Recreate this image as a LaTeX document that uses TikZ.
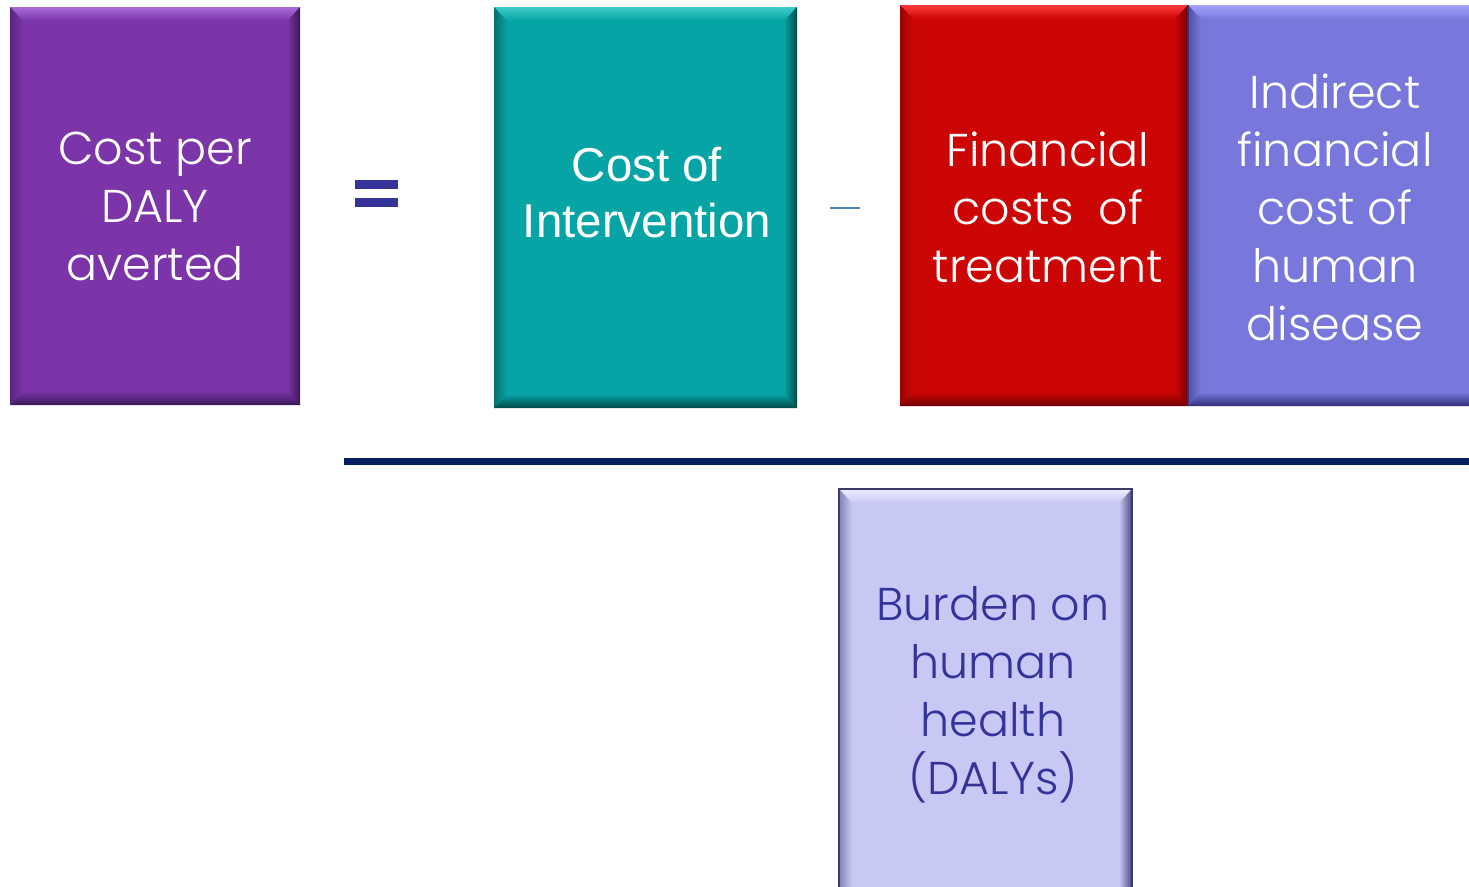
\documentclass[tikz,border=0pt]{standalone}
\usepackage{fontspec}
\setmainfont{Poppins Light}
\newfontfamily\arialfont{Liberation Sans}
\usetikzlibrary{calc}

\definecolor{purplebase}{HTML}{7B35A8}
\definecolor{purplelight}{HTML}{A86CDA}
\definecolor{purpledark}{HTML}{3A1858}
\definecolor{tealbase}{HTML}{06A4A4}
\definecolor{teallight}{HTML}{40CACA}
\definecolor{tealdark}{HTML}{024848}
\definecolor{redbase}{HTML}{CC0605}
\definecolor{redlight}{HTML}{FF3A3A}
\definecolor{reddark}{HTML}{700000}
\definecolor{bluebase}{HTML}{7878DC}
\definecolor{bluelight}{HTML}{A4A4FA}
\definecolor{bluedark}{HTML}{30307A}
\definecolor{lavbase}{HTML}{C8C8F5}
\definecolor{lavlight}{HTML}{ECECFF}
\definecolor{lavdark}{HTML}{4A4A80}
\definecolor{navytext}{HTML}{333399}
\definecolor{barline}{HTML}{002060}
\definecolor{minusblue}{HTML}{4F81BD}

% bevelled edges of a box: #1 node, #2 base, #3 light, #4 dark
\newcommand\bevelbox[4]{%
  \shade[top color=#3, bottom color=#2]
    (#1.north west) -- (#1.north east) -- ($(#1.north east)+(-13,14)$)
    -- ($(#1.north west)+(13,14)$) -- cycle;
  \shade[left color=#2, right color=#4]
    (#1.north east) -- (#1.south east) -- ($(#1.south east)+(-13,-14)$)
    -- ($(#1.north east)+(-13,14)$) -- cycle;
  \shade[top color=#2, bottom color=#4]
    ($(#1.south west)+(13,-14)$) -- ($(#1.south east)+(-13,-14)$)
    -- (#1.south east) -- (#1.south west) -- cycle;
  \shade[right color=#2, left color=#4!55!#2]
    (#1.north west) -- ($(#1.north west)+(13,14)$)
    -- ($(#1.south west)+(13,-14)$) -- (#1.south west) -- cycle;
}

\tikzset{
  box/.style={rectangle, inner sep=0pt, outer sep=0pt, draw=none},
  gothic/.style={align=center, inner sep=0pt, text=white,
    font=\fontsize{46}{58}\selectfont},
  arialtext/.style={align=center, inner sep=0pt, text=white,
    font=\arialfont\fontsize{47.5}{56}\selectfont},
}

\begin{document}
\begin{tikzpicture}[x=1pt, y=-1pt]
  \clip (0,0) rectangle (1469,886);
  \fill[white] (0,0) rectangle (1469,886);

  % result box
  \node[box, fill=purplebase, minimum width=290, minimum height=398] (cpd) at (155,206) {};
  \bevelbox{cpd}{purplebase}{purplelight}{purpledark}
  \node[gothic] (cpdtext) at (155,206.5) {Cost per\\DALY\\averted};

  % equals sign
  \node[box, fill=navytext, minimum width=43, minimum height=9] (eqtop) at (376.5,184) {};
  \node[box, fill=navytext, minimum width=43, minimum height=9] (eqbot) at (376.5,202) {};

  % intervention cost
  \node[box, fill=tealbase, minimum width=303, minimum height=401] (coi) at (645.5,207.5) {};
  \bevelbox{coi}{tealbase}{teallight}{tealdark}
  \node[arialtext] (coitext) at (647,193) {Cost of\\Intervention};

  % minus sign
  \coordinate (minusl) at (830,208);
  \coordinate (minusr) at (860,208);
  \draw[minusblue, line width=2.5pt] (minusl) -- (minusr);

  % costs avoided
  \node[box, fill=redbase, minimum width=288, minimum height=401] (fct) at (1044,205.5) {};
  \bevelbox{fct}{redbase}{redlight}{reddark}
  \node[gothic] (fcttext) at (1048,207) {Financial\\costs~~of\\treatment};

  \node[box, fill=bluebase, minimum width=300, minimum height=401] (ifc) at (1338,205.5) {};
  \bevelbox{ifc}{bluebase}{bluelight}{bluedark}
  \draw[bluedark, line width=2pt] (ifc.north west) -- (ifc.south west);
  \node[gothic] (ifctext) at (1335,207) {Indirect\\financial\\cost of\\human\\disease};

  % fraction bar
  \coordinate (barl) at (344,461.5);
  \coordinate (barr) at (1469,461.5);
  \draw[barline, line width=7pt] (barl) -- (barr);

  % denominator
  \node[box, fill=lavbase, minimum width=293, minimum height=420] (bhh) at (985.5,699) {};
  \bevelbox{bhh}{lavbase}{lavlight}{lavdark}
  \draw[lavdark!80!black, line width=2pt] (bhh.south west) -- (bhh.north west) -- (bhh.north east) -- (bhh.south east);
  \node[gothic, text=navytext] (bhhtext) at (993,695) {Burden on\\human\\health\\(DALYs)};
\end{tikzpicture}
\end{document}
